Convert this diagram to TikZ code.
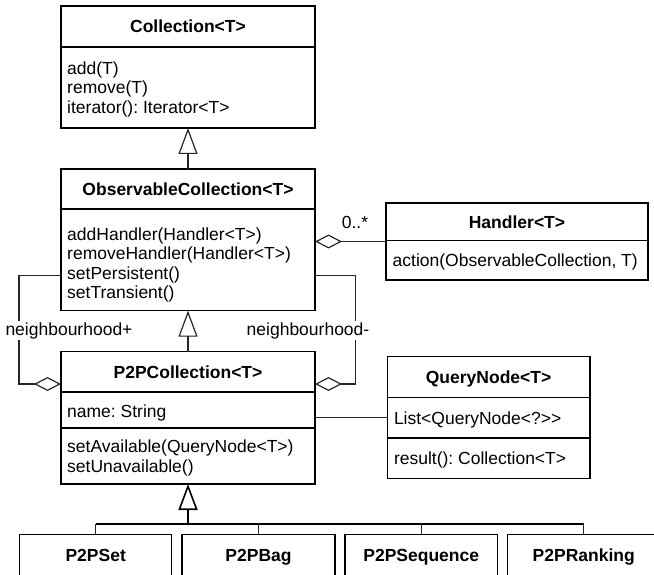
\documentclass[tikz,border=0pt]{standalone}
\usepackage{fontspec}
\setmainfont{Liberation Sans}[Ligatures=TeXOff]
\frenchspacing
\usetikzlibrary{arrows.meta}
\begin{document}
\begin{tikzpicture}[x=1pt,y=-1pt,
  box/.style={draw=black, line width=1.3pt, inner sep=0pt, outer sep=0pt, anchor=north west},
  child/.style={box, font=\fontsize{17.5}{19.5}\selectfont\bfseries, text height=12.6pt, text depth=0pt, minimum height=42pt},
  hdr/.style={font=\fontsize{17.5}{19.5}\selectfont\bfseries, text height=12.6pt, text depth=0pt, inner sep=0pt, anchor=center},
  mem/.style={font=\fontsize{17.5}{19.5}\selectfont, text height=12.6pt, text depth=0pt, inner sep=0pt, anchor=west},
  lbl/.style={font=\fontsize{17.5}{19.5}\selectfont, text height=12.6pt, text depth=3pt, inner sep=2pt, fill=white},
  sep/.style={draw=black, line width=1.3pt},
  conn/.style={draw=black!85, line width=1.2pt},
  gen/.style={conn, -{Triangle[open, length=26pt, width=19pt]}},
  agg/.style={conn, {Diamond[open, length=27pt, width=14pt]}-},
  bus/.style={draw=black, line width=2pt},
]
\useasboundingbox (0,0) rectangle (654,575);
\clip (0,0) rectangle (654,575);

% Collection
\node[box, minimum width=254pt, minimum height=122pt] (coll) at (61,6) {};
\draw[sep] (coll.west |- 0,47) -- (coll.east |- 0,47);
\node[hdr] (collh) at (188,26.5) {Collection<T>};
\node[mem] (c1) at (67,68) {add(T)};
\node[mem] (c2) at (67,87.5) {remove(T)};
\node[mem] (c3) at (67,107) {iterator(): Iterator<T>};

% ObservableCollection
\node[box, minimum width=254pt, minimum height=141.7pt] (obs) at (61,169) {};
\draw[sep] (obs.west |- 0,209) -- (obs.east |- 0,209);
\node[hdr] (obsh) at (188,189) {ObservableCollection<T>};
\node[mem] (o1) at (67,234) {addHandler(Handler<T>)};
\node[mem] (o2) at (67,253.5) {removeHandler(Handler<T>)};
\node[mem] (o3) at (67,273) {setPersistent()};
\node[mem] (o4) at (67,292.5) {setTransient()};

% Handler
\node[box, minimum width=262pt, minimum height=77pt] (hand) at (386,203) {};
\draw[sep] (hand.west |- 0,240.7) -- (hand.east |- 0,240.7);
\node[hdr] (handh) at (517,222) {Handler<T>};
\node[mem] (h1) at (392.5,260.5) {action(ObservableCollection, T)};

% P2PCollection
\node[box, minimum width=254pt, minimum height=132.3pt] (p2p) at (61,351.7) {};
\draw[sep] (p2p.west |- 0,392) -- (p2p.east |- 0,392);
\draw[sep] (p2p.west |- 0,428) -- (p2p.east |- 0,428);
\node[hdr] (p2ph) at (188,372) {P2PCollection<T>};
\node[mem] (p1) at (67,411) {name: String};
\node[mem] (p2) at (67,446.5) {setAvailable(QueryNode<T>)};
\node[mem] (p3) at (67,466) {setUnavailable()};

% QueryNode
\node[box, minimum width=202.7pt, minimum height=121.8pt] (qn) at (387.3,356.7) {};
\draw[sep] (qn.west |- 0,397.5) -- (qn.east |- 0,397.5);
\draw[sep] (qn.west |- 0,438) -- (qn.east |- 0,438);
\node[hdr] (qnh) at (488.6,377) {QueryNode<T>};
\node[mem] (q1) at (393.8,418) {List<QueryNode<?>>};
\node[mem] (q2) at (393.8,458) {result(): Collection<T>};

% children
\node[child, minimum width=152.2pt] (set) at (19.6,534.5) {P2PSet};
\node[child, minimum width=153pt] (bag) at (182,534.5) {P2PBag};
\node[child, minimum width=152.5pt] (seq) at (345,534.5) {P2PSequence};
\node[child, minimum width=152.5pt] (rank) at (507.5,534.5) {P2PRanking};

% generalizations
\draw[gen] (obs.north) -- (coll.south);
\draw[gen] (p2p.north) -- (obs.south);
\coordinate (busc) at (188,524);
\draw[gen, draw=black, line width=1.6pt] (busc) -- (p2p.south);
\draw[bus] (set.north |- busc) -- (rank.north |- busc);
\draw[conn] (set.north) -- (set.north |- busc);
\draw[conn] (bag.north) -- (bag.north |- busc);
\draw[conn] (seq.north) -- (seq.north |- busc);
\draw[conn] (rank.north) -- (rank.north |- busc);

% aggregations
\draw[agg] (hand.west -| obs.east) -- (hand.west);
\node[font=\fontsize{17.5}{19.5}\selectfont, inner sep=0pt, text height=12.6pt, text depth=0pt] (mult) at (355,222) {0..*};

\draw[agg] (p2p.west |- 0,384) -- (19,384) -- (19,275.7) -- (obs.west |- 0,275.7);
\draw[agg] (p2p.east |- 0,384) -- (355.7,384) -- (355.7,275.7) -- (obs.east |- 0,275.7);
\node[lbl] (nplus) at (69,330.5) {neighbourhood+};
\node[lbl] (nminus) at (308,330.5) {neighbourhood-};

% association
\draw[conn] (qn.west -| p2p.east) -- (qn.west);
\end{tikzpicture}
\end{document}
